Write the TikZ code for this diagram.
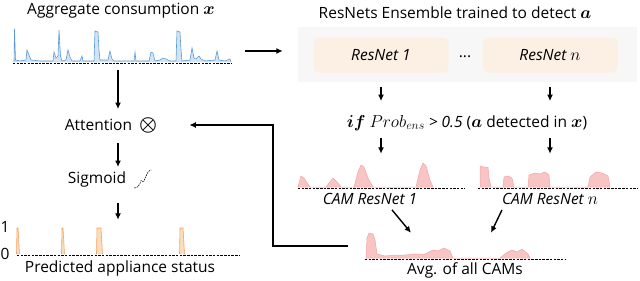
\documentclass[tikz,border=0pt]{standalone}
\usepackage{fontspec}
\setmainfont{Open Sans}
\usepackage{amsmath}
\usepackage{bm}
\usetikzlibrary{arrows.meta,positioning}
\definecolor{sigblue}{HTML}{5B9BD5}
\definecolor{sigbluefill}{HTML}{D2E4F4}
\definecolor{campink}{HTML}{F2A7A7}
\definecolor{campinkfill}{HTML}{F9C4C4}
\definecolor{predorange}{HTML}{F4A460}
\definecolor{predorangefill}{HTML}{FBDDBE}
\definecolor{ensgray}{HTML}{F7F7F7}
\definecolor{netpeach}{HTML}{FCEFE4}
\newcommand{\bigmath}[1]{{\fontsize{17.5}{20}\selectfont$#1$}}
\tikzset{
  arr/.style={-{Latex[length=6.5pt,width=6pt]},line width=1.4pt},
  lbl/.style={font=\fontsize{15.5}{18}\selectfont,inner sep=0pt},
  netbox/.style={rounded corners=5pt,fill=netpeach,minimum width=135pt,minimum height=35pt,
    font=\fontsize{15.5}{18}\selectfont\itshape},
  plotbox/.style={inner sep=0pt},
  baseline/.style={line width=0.9pt,dash pattern=on 2.5pt off 1.2pt},
}
\begin{document}
\begin{tikzpicture}[x=1pt,y=-1pt]
\useasboundingbox (0,0) rectangle (640,281);
% titles
\node[lbl] (aggt) at (121,11) {Aggregate consumption \bigmath{\bm{x}}};
\node[lbl] (enst) at (455,13) {ResNets Ensemble trained to detect \bigmath{\bm{a}}};
% aggregate signal
\node[plotbox,minimum width=219pt,minimum height=35pt] (sig) at (122.5,45.5) {};
\fill[sigbluefill] plot coordinates {(14,62)(14.5,29)(15.5,60)(20,61)(26,60)(27,50)(29,55)(31,60)(40,61)(53,61)(54,52)(56,58)(58,56)(59,30)(60.5,56)(62,61)(66,60)(68,50)(70,57)(72,61)(80,61)(82,56)(83,61)(94,61)(95,31)(98,32)(99,50)(100,60)(108,60)(110,51)(112,59)(114,61)(134,61)(135,52)(136,61)(149,61)(151,52)(153,53)(155,61)(160,60)(163,58)(166,59)(170,61)(176,61)(177,31)(180,32)(181,50)(182,61)(190,60)(192,48)(194,58)(196,59)(199,56)(201,59)(205,61)(215,60)(217,51)(219,60)(225,61)(230,59)(231,62)} -- cycle;
\draw[sigblue,line width=0.6pt] plot coordinates {(14,62)(14.5,29)(15.5,60)(20,61)(26,60)(27,50)(29,55)(31,60)(40,61)(53,61)(54,52)(56,58)(58,56)(59,30)(60.5,56)(62,61)(66,60)(68,50)(70,57)(72,61)(80,61)(82,56)(83,61)(94,61)(95,31)(98,32)(99,50)(100,60)(108,60)(110,51)(112,59)(114,61)(134,61)(135,52)(136,61)(149,61)(151,52)(153,53)(155,61)(160,60)(163,58)(166,59)(170,61)(176,61)(177,31)(180,32)(181,50)(182,61)(190,60)(192,48)(194,58)(196,59)(199,56)(201,59)(205,61)(215,60)(217,51)(219,60)(225,61)(230,59)(231,62)};
\draw[baseline] (sig.south west) -- (sig.south east);
% ensemble
\node[fill=ensgray,minimum width=339pt,minimum height=55pt,inner sep=0pt] (ens) at (467.5,54.5) {};
\node[netbox] (net1) at (381,55) {ResNet 1};
\node[netbox] (netn) at (550,55) {ResNet \bigmath{n}};
\node[lbl] (dots) at (465,57) {...};
\draw[arr,shorten <=13pt,shorten >=15pt] ([yshift=-5.5pt]sig.east) -- ([yshift=-5.5pt]sig.east -| ens.west);
% detection condition
\node[lbl] (cond) at (467,123) {\bigmath{\bm{if}} \bigmath{Prob_{ens}} \textit{> 0.5} (\bigmath{\bm{a}} detected in \bigmath{\bm{x}})};
\draw[arr,shorten <=5pt,shorten >=14pt] (net1 |- ens.south) -- (net1 |- cond.north);
\draw[arr,shorten <=5pt,shorten >=14pt] (netn |- ens.south) -- (netn |- cond.north);
% CAMs
\node[plotbox,minimum width=167pt,minimum height=28pt] (cam1) at (381.5,174) {};
\fill[campinkfill,draw=campink,line width=0.5pt] (298,187) -- (301,176) -- (304,178) -- (310,187) -- (326,187) -- (333,178) -- (338,183) -- (341,187) -- (354,187) -- (358,172) -- (361,165) -- (364,167) -- (368,178) -- (373,187) -- (416,187) -- (420,170) -- (423,163) -- (426,166) -- (430,180) -- (433,187) -- cycle;
\draw[baseline] (cam1.south west) -- (cam1.south east);
\node[plotbox,minimum width=159pt,minimum height=28pt] (camn) at (557.5,174) {};
\fill[campinkfill,draw=campink,line width=0.5pt] (480,187) -- (480,166) -- (484,167) -- (488,167) -- (489,178) -- (491,187) -- (503,187) -- (504,177) -- (508,176) -- (512,178) -- (514,187) -- (528,187) -- (529,175) -- (535,173) -- (540,174) -- (545,172) -- (549,175) -- (550,187) -- (588,187) -- (590,177) -- (596,172) -- (602,173) -- (608,176) -- (610,187) -- cycle;
\draw[baseline] (camn.south west) -- (camn.south east);
\draw[arr,shorten <=7pt,shorten >=6pt] (cond.south -| net1) -- (net1 |- cam1.north);
\draw[arr,shorten <=7pt,shorten >=6pt] (cond.south -| netn) -- (netn |- camn.north);
\node[lbl,font=\fontsize{15.5}{18}\selectfont\itshape] (cam1l) at (370,199) {CAM ResNet 1};
\node[lbl,font=\fontsize{15.5}{18}\selectfont\itshape] (camnl) at (550,199) {CAM ResNet \bigmath{n}};
% average
\node[plotbox,minimum width=200pt,minimum height=29pt] (avg) at (465,244.5) {};
\fill[campinkfill,draw=campink,line width=0.5pt] (366,258) -- (367,238) -- (369,233) -- (373,234) -- (375,240) -- (377,254) -- (385,256) -- (395,255) -- (405,255) -- (415,254) -- (425,254) -- (433,250) -- (438,251) -- (444,248) -- (450,251) -- (453,258) -- (500,258) -- (506,253) -- (512,250) -- (517,252) -- (522,249) -- (528,254) -- (530,258) -- cycle;
\draw[baseline] (avg.south west) -- (avg.south east);
\node[lbl] (avgl) at (465,270) {Avg. of all CAMs};
\draw[arr] ([xshift=22pt,yshift=-5pt]cam1l.south) -- ([xshift=-54pt,yshift=-3pt]avg.north);
\draw[arr] ([xshift=-48pt,yshift=-5pt]camnl.south) -- ([xshift=26pt,yshift=-3pt]avg.north);
% predicted status
\node[plotbox,minimum width=223pt,minimum height=29pt] (pred) at (128.5,240.5) {};
\foreach \a/\b in {16.5/18,61.5/63,96.5/101,179.5/183}{
  \fill[predorangefill,draw=predorange,line width=0.6pt] (\a,254) -- (\a+0.5,228) -- (\b,228) -- (\b+1.5,254);
}
\draw[baseline] (pred.south west) -- (pred.south east);
\node[lbl] (one) at (5,227) {1};
\node[lbl] (zero) at (5,254) {0};
\node[lbl] (predl) at (120,268) {Predicted appliance status};
% left column
\coordinate (colx) at (118,0);
\node[lbl] (att) at (111,125) {Attention\hspace{7pt}\scalebox{1.4}{$\bm{\otimes}$}};
\node[lbl] (sgm) at (97,179) {Sigmoid};
\draw[line width=0.6pt,dash pattern=on 1.5pt off 1pt] ([xshift=8pt,yshift=-9pt]sgm.east) .. controls +(7,0) and +(-2,-4) .. ([xshift=16pt,yshift=-2pt]sgm.east) .. controls +(2,4) and +(-5,0) .. ([xshift=25pt,yshift=9pt]sgm.east);
\draw[arr,shorten <=7pt,shorten >=8pt] (colx |- sig.south) -- (colx |- att.north);
\draw[arr,shorten <=10pt,shorten >=4pt] (colx |- att.south) -- (colx |- sgm.north);
\draw[arr,shorten <=16pt,shorten >=6pt] (colx |- sgm.south) -- (colx |- pred.north);
% feedback
\coordinate (fbx) at (273,0);
\draw[arr,shorten <=17pt,shorten >=32pt] ([yshift=-1.5pt]avg.west) -| (fbx |- att.east) -- (att.east);
\end{tikzpicture}
\end{document}
